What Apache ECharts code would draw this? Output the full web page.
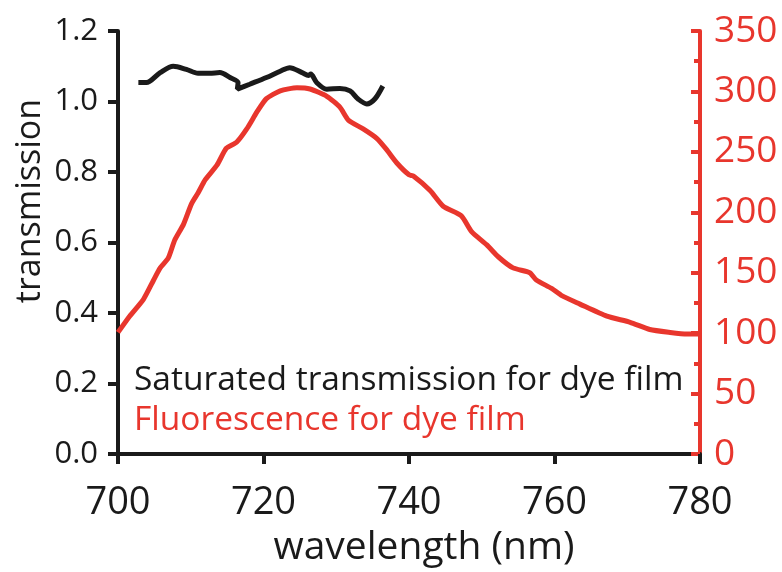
<!DOCTYPE html>
<html><head><meta charset="utf-8">
<script src="https://cdn.jsdelivr.net/npm/echarts@6/dist/echarts.min.js"></script>
<style>html,body{margin:0;padding:0;background:#fff}#c{width:782px;height:572px}</style>
</head><body><div id="c"></div>
<script>
// Transmission (left axis) — wavelength (nm)
var transX = [702.8,703.9,705.8,707.6,709.4,711.0,712.6,714.0,715.4,716.5,716.4,718.1,720.4,722.3,723.6,725.3,726.2,726.5,727.3,728.7,730.5,731.9,733.0,734.2,735.3,736.4];
var transY = [1.054,1.054,1.082,1.100,1.091,1.080,1.080,1.082,1.068,1.054,1.035,1.049,1.068,1.086,1.096,1.082,1.074,1.078,1.054,1.035,1.037,1.030,1.007,0.993,1.007,1.044];
// Fluorescence (right axis)
var fluoX = [700.0,701.6,703.5,704.9,705.8,706.9,707.8,709.0,710.1,711.0,712.0,713.6,714.9,716.3,717.7,719.1,720.4,722.3,724.6,726.4,728.7,730.5,731.7,733.7,735.6,736.9,738.3,740.0,740.6,742.9,744.7,747.2,748.6,750.7,752.3,754.3,756.6,757.5,759.6,761.0,763.5,767.2,770.4,773.1,775.9,778.2,780.0];
var fluoY = [100.6,114,128,144,154,162,177,190,207,216,227,239,253,258,269,283,294,300.5,303,302,296,287,276,269,261,252,241,231,230,218,205,197,184,173,163,154,150,144,137,131,124,114,109,103,100.6,99.3,99.3];
var xTicks = [700,720,740,760,780];
var leftTicks = [0,0.2,0.4,0.6,0.8,1.0,1.2];
var rightTicks = [0,50,100,150,200,250,300,350];
var legendLabels = ['Saturated transmission for dye film','Fluorescence for dye film'];
var xName = 'wavelength (nm)', yName = 'transmission';

var RED = '#e8362d', BLACK = '#1a1a1a';
var FONT = 'Open Sans';
function zip(a,b){return a.map(function(v,i){return [v,b[i]];});}
var chart = echarts.init(document.getElementById('c'));
chart.setOption({
  animation:false,
  backgroundColor:'#fff',
  grid:{left:118,right:82,top:31,bottom:112,containLabel:false},
  xAxis:{type:'value',min:xTicks[0],max:xTicks[xTicks.length-1],interval:20,
    name:xName,nameLocation:'middle',nameGap:74,
    nameTextStyle:{fontFamily:FONT,fontSize:39,color:BLACK,padding:[0,0,0,30]},
    axisLine:{lineStyle:{color:BLACK,width:4}},
    axisTick:{length:10,lineStyle:{color:BLACK,width:4}},
    axisLabel:{fontFamily:FONT,fontSize:38,color:BLACK,margin:30},
    splitLine:{show:false}},
  yAxis:[
   {type:'value',min:leftTicks[0],max:leftTicks[leftTicks.length-1],interval:0.2,position:'left',
    axisLine:{show:true,lineStyle:{color:BLACK,width:4}},
    axisTick:{show:true,length:10,lineStyle:{color:BLACK,width:4}},
    axisLabel:{fontFamily:FONT,fontSize:31,color:BLACK,margin:20,formatter:function(v){return v.toFixed(1);}},
    splitLine:{show:false}},
   {type:'value',min:rightTicks[0],max:rightTicks[rightTicks.length-1],interval:50,position:'right',
    axisLine:{show:true,lineStyle:{color:RED,width:4}},
    axisTick:{show:true,inside:true,length:9,lineStyle:{color:RED,width:4}},
    minorTick:{show:true,splitNumber:2,length:6,lineStyle:{color:RED,width:4}},
    axisLabel:{fontFamily:FONT,fontSize:37,color:RED,margin:14},
    splitLine:{show:false}}
  ],
  series:[
   {type:'line',yAxisIndex:1,data:zip(fluoX,fluoY),showSymbol:false,smooth:0.2,
    lineStyle:{color:RED,width:5},z:2},
   {type:'line',yAxisIndex:0,data:zip(transX,transY),showSymbol:false,smooth:0.3,
    lineStyle:{color:BLACK,width:5},z:3}
  ],
  graphic:[
   {type:'text',x:30,y:201,rotation:Math.PI/2,style:{text:yName,fontFamily:FONT,fontSize:34,fill:BLACK,align:'center',verticalAlign:'middle'}},
   {type:'text',left:134,top:363,style:{text:legendLabels[0],fontFamily:FONT,fontSize:33.5,fill:BLACK}},
   {type:'text',left:134,top:403,style:{text:legendLabels[1],fontFamily:FONT,fontSize:33.5,fill:RED}}
  ]
});
</script></body></html>
